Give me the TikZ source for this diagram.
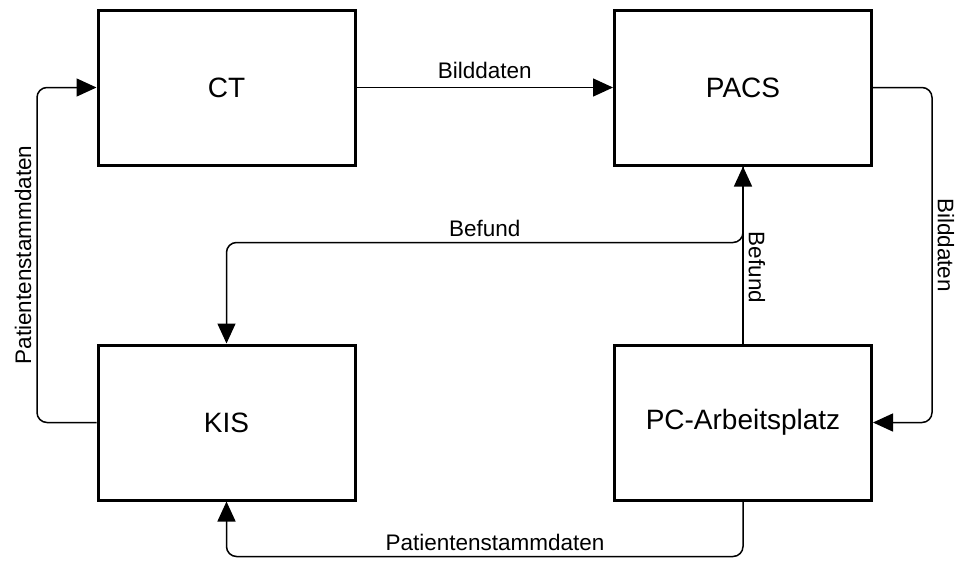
\documentclass[tikz,border=0pt]{standalone}
\usepackage{fontspec}
\setmainfont{Liberation Sans}
\usetikzlibrary{positioning,arrows.meta}

\begin{document}
\begin{tikzpicture}[
  x=1pt, y=1pt,
  node distance=177pt and 256.5pt,
  box/.style={draw, line width=3pt, fill=white, minimum width=257pt, minimum height=155pt, inner sep=0pt, font=\fontsize{28}{32}\selectfont},
  arr/.style={-{Triangle[length=20pt,width=18pt]}, line width=1.5pt, rounded corners=10pt},
  lbl/.style={font=\fontsize{22.5}{26}\selectfont, inner sep=5pt}
]
\useasboundingbox (0,0) rectangle (957,-560);
\node[box] (ct) at (226.5,-87.5) {CT};
\node[box, right=of ct] (pacs) {PACS};
\node[box, below=of ct] (kis) {KIS};
\node[box, below=of pacs] (pc) {PC-Arbeitsplatz};

\draw[arr] (ct) -- node[lbl, above=3pt]{Bilddaten} (pacs);
\draw[arr] (pacs.east) -- ++(59pt,0) |- node[lbl, pos=0.235, rotate=-90, anchor=south]{Bilddaten} (pc.east);
\draw[arr] (pc) -- node[lbl, pos=0.43, rotate=-90, anchor=south]{Befund} (pacs);
\draw[arr] (pacs.south) -- ++(0,-76pt) -| node[lbl, pos=0.25, above]{Befund} (kis.north);
\draw[arr] (kis.west) -- ++(-59.5pt,0) |- node[lbl, pos=0.25, rotate=90, anchor=south]{Patientenstammdaten} (ct.west);
\draw[arr] (pc.south) -- ++(0,-55pt) -| node[lbl, pos=0.24, above]{Patientenstammdaten} (kis.south);
\end{tikzpicture}
\end{document}
